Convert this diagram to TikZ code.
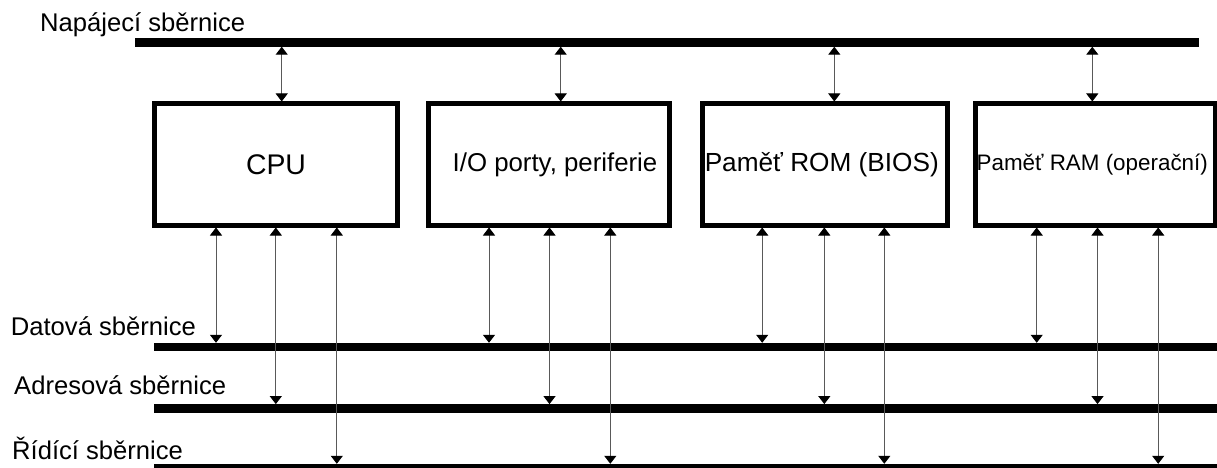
\documentclass[tikz,border=0pt]{standalone}
\usepackage{fontspec}
\setmainfont{Liberation Sans}
\usetikzlibrary{arrows.meta}

\begin{document}
\begin{tikzpicture}[x=1pt, y=-1pt,
		bus/.style={line width=8.4pt},
		unit/.style={draw, line width=5pt, minimum height=121pt, inner sep=0pt},
		link/.style={draw=black!65, line width=1pt,
			{Triangle[width=12pt,length=8pt,black]}-{Triangle[width=12pt,length=8pt,black]}},
		buslabel/.style={font=\fontsize{25.6}{30}\selectfont, anchor=base west, inner sep=0pt}
		]
		
		\fill[white] (0,0) rectangle (1217,468);
		\useasboundingbox (0,0) rectangle (1217,468);
		
		% -------------------------------------------------
		% Buses
		% -------------------------------------------------
		\draw[bus] (135,42.5) -- (1199,42.5);
		\draw[bus] (154,347) -- (1220,347);
		\draw[bus] (154,408.3) -- (1220,408.3);
		\draw[bus] (154,468) -- (1220,468);
		
		\coordinate (pwr) at (0,46.7);
		\coordinate (data) at (0,342.8);
		\coordinate (addr) at (0,404.1);
		\coordinate (ctrl) at (0,463.8);
		
		\node[buslabel] (lblpwr) at (40,31.7) {Napájecí sběrnice};
		\node[buslabel] (lbldata) at (10.7,335) {Datová sběrnice};
		\node[buslabel] (lbladdr) at (14,394.3) {Adresová sběrnice};
		\node[buslabel] (lblctrl) at (12,459) {Řídící sběrnice};
		
		% -------------------------------------------------
		% Units
		% -------------------------------------------------
		\node[unit, minimum width=242.3pt, font=\fontsize{28.4}{32}\selectfont] (cpu) at (276,164.5) {CPU};
		\node[unit, minimum width=241pt, font=\fontsize{25.8}{30}\selectfont] (io) at (549,164.5) {\hspace*{12pt}I/O porty, periferie};
		\node[unit, minimum width=244.5pt, font=\fontsize{26.2}{30}\selectfont] (rom) at (824.75,164.5) {Paměť ROM (BIOS)\hspace*{6pt}};
		\node[unit, minimum width=239.5pt, font=\fontsize{22.4}{26}\selectfont] (ram) at (1095.25,164.5) {Paměť RAM (operační)\hspace*{6pt}};
		
		% -------------------------------------------------
		% Links
		% -------------------------------------------------
		\foreach \b/\x in {cpu/281.7,io/560.7,rom/834.3,ram/1092.3}
		\draw[link] (pwr -| \x,0) -- (\b.north -| \x,0);
		
		\foreach \b/\x in {cpu/216,io/489,rom/762.2,ram/1036.7}
		\draw[link] (\b.south -| \x,0) -- (data -| \x,0);
		
		\foreach \b/\x in {cpu/275.8,io/549.5,rom/824.3,ram/1097.5}
		\draw[link] (\b.south -| \x,0) -- (addr -| \x,0);
		
		\foreach \b/\x in {cpu/336.8,io/610.3,rom/884.3,ram/1158.2}
		\draw[link] (\b.south -| \x,0) -- (ctrl -| \x,0);
		
	\end{tikzpicture}
\end{document}
